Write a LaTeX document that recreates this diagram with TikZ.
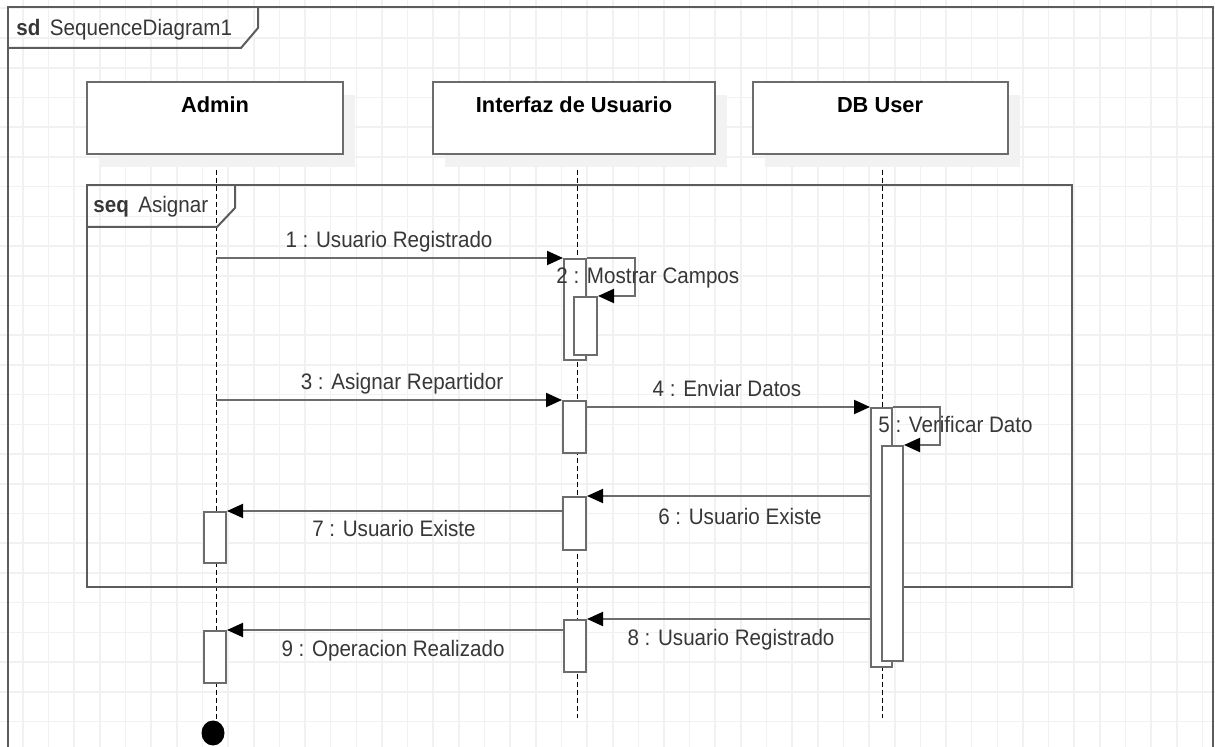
\documentclass[tikz,border=0pt]{standalone}
\usepackage{fontspec}
\setmainfont{Liberation Sans}[FakeStretch=0.92]
\newfontfamily\headfont{Liberation Sans}
\usepackage{tikz}
\usetikzlibrary{arrows.meta,calc,positioning,fit,shadows,shapes.geometric}
\definecolor{LineGray}{RGB}{108,108,108}
\definecolor{FrameGray}{RGB}{92,92,92}
\definecolor{GridGray}{RGB}{241,241,241}
\definecolor{LabelGray}{RGB}{55,55,55}
\definecolor{ShadowGray}{RGB}{242,242,242}

\tikzset{
  gridline/.style={GridGray, line width=0.8pt},
  frm/.style={draw=FrameGray, line width=1pt},
  head/.style={draw=LineGray, line width=1pt, fill=white, inner sep=0pt,
    drop shadow={shadow xshift=6pt, shadow yshift=-6.5pt, fill=ShadowGray, opacity=1}},
  act/.style={draw=LineGray, line width=1pt, fill=white, inner sep=0pt},
  life/.style={black, line width=0.5pt, dash pattern=on 2.5pt off 1.5pt},
  msg/.style={LineGray, line width=1pt, -{Triangle[length=8pt,width=7pt,color=black]}},
  ttl/.style={font=\fontsize{10.9pt}{13pt}\headfont\bfseries, inner sep=0pt, anchor=base},
  lbl/.style={text=LabelGray, inner sep=0pt, anchor=base},
  endmark/.style={ellipse, fill=black, inner sep=0pt, minimum width=11.5pt, minimum height=12.5pt}
}

\begin{document}
\begin{tikzpicture}[x=0.5pt, y=-0.5pt, font=\fontsize{11.2pt}{13pt}\selectfont]
    \useasboundingbox (0,0) rectangle (1215,747);

    % Grid
    \foreach \i in {0,...,46}
        \draw[gridline] ({23+25.64*\i},0) -- ({23+25.64*\i},747);
    \foreach \j in {0,...,24}
        \draw[gridline] (0,{8.3+29.72*\j}) -- (1215,{8.3+29.72*\j});

    % Outer frame (sd)
    \draw[frm] (8,747) -- (8,7) -- (1213,7) -- (1213,747);
    \draw[frm] (8,48) -- (241,48) -- (258,28) -- (258,7);
    \node[lbl, anchor=base west] (sdName) at (16,36) {\textbf{sd}\, SequenceDiagram1};

    % Lifelines
    \coordinate (lAdmin) at (216,154);
    \coordinate (lUI)    at (577,154);
    \coordinate (lDB)    at (882,154);
    \draw[life] (lAdmin) -- (216,722);
    \draw[life] (lUI) -- (577,718);
    \draw[life] (lDB) -- (882,718);
    \node[endmark] (endAdmin) at (213,733) {};

    % Heads
    \node[head, fit={(87,82) (343,154)}] (hAdmin) {};
    \node[head, fit={(433,82) (715,154)}] (hUI) {};
    \node[head, fit={(753,82) (1008,154)}] (hDB) {};
    \node[ttl] (tAdmin) at (215,113) {Admin};
    \node[ttl] (tUI)    at (574,113) {Interfaz de Usuario};
    \node[ttl] (tDB)    at (880,113) {DB User};

    % Combined fragment (seq)
    \draw[frm] (87,185) rectangle (1072,587);
    \draw[frm] (87,227) -- (217,227) -- (235,208) -- (235,185);
    \node[lbl, anchor=base west] (seqName) at (93,213) {\textbf{seq}\, Asignar};

    % Activations
    \node[act, fit={(564,259) (586,360)}] (a2o) {};
    \node[act, fit={(574,297) (597,355)}] (a2i) {};
    \node[act, fit={(563,401) (586,453)}] (a3) {};
    \node[act, fit={(871,408) (892,667)}] (a5o) {};
    \node[act, fit={(882,446) (903,661)}] (a5i) {};
    \node[act, fit={(563,497) (586,550)}] (a6) {};
    \node[act, fit={(204,512) (226,563)}] (a7) {};
    \node[act, fit={(564,620) (586,672)}] (a8) {};
    \node[act, fit={(204,631) (226,683)}] (a9) {};

    % Messages
    \draw[msg] (lAdmin |- a2o.north west) -- (a2o.north west);
    \draw[msg] (a2o.north east) -- ++(48,0) |- (a2i.north east);
    \draw[msg] (lAdmin |- a3.north west) -- (a3.north west);
    \draw[msg] (a3.east |- a5o.north west) -- (a5o.north west);
    \draw[msg] (a5o.north east) -- ++(47,0) |- (a5i.north east);
    \draw[msg] (a5o.west |- a6.north east) -- (a6.north east);
    \draw[msg] (a6.west |- a7.north east) -- (a7.north east);
    \draw[msg] (a5o.west |- a8.north east) -- (a8.north east);
    \draw[msg] (a8.west |- a9.north east) -- (a9.north east);

    % Message labels
    \node[lbl] (m1) at (389,248) {1 : Usuario Registrado};
    \node[lbl, anchor=base west] (m2) at (556,284) {2 : Mostrar Campos};
    \node[lbl] (m3) at (402,390) {3 : Asignar Repartidor};
    \node[lbl] (m4) at (727,397) {4 : Enviar Datos};
    \node[lbl, anchor=base west] (m5) at (878,433) {5 : Verificar Dato};
    \node[lbl] (m6) at (740,525) {6 : Usuario Existe};
    \node[lbl] (m7) at (394,537) {7 : Usuario Existe};
    \node[lbl] (m8) at (731,646) {8 : Usuario Registrado};
    \node[lbl] (m9) at (393,657) {9 : Operacion Realizado};
\end{tikzpicture}
\end{document}
